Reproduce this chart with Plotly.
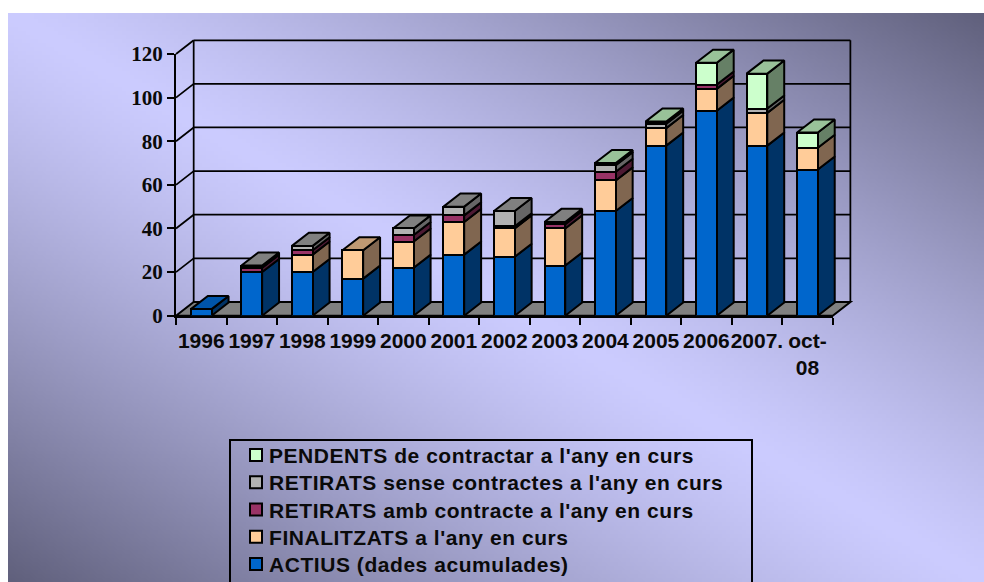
import base64, struct, zlib
import numpy as np
import plotly.graph_objects as go

# ---------- data ----------
categories = ["1996", "1997", "1998", "1999", "2000", "2001", "2002", "2003", "2004", "2005", "2006", "2007.", "oct-<br>08"]
actius     = [3, 20, 20, 17, 22, 28, 27, 23, 48, 78, 94, 78, 67]
finalitzats = [0, 0, 8, 13, 12, 15, 13, 17, 14, 8, 10, 15, 10]
retirats_amb = [0, 2, 2, 0, 3, 3, 1, 2, 4, 0, 2, 0, 0]
retirats_sense = [0, 1, 2, 0, 3, 4, 7, 1, 3, 2, 0, 2, 0]
pendents   = [0, 0, 0, 0, 0, 0, 0, 0, 1, 1, 10, 16, 7]
y_ticks = [0, 20, 40, 60, 80, 100, 120]

series_names = ["ACTIUS (dades acumulades)", "FINALITZATS a l'any en curs",
                "RETIRATS amb contracte a l'any en curs",
                "RETIRATS sense contractes a l'any en curs",
                "PENDENTS de contractar a l'any en curs"]
series_values = [actius, finalitzats, retirats_amb, retirats_sense, pendents]
front_colors = ["#0066CC", "#FFCC99", "#993366", "#B2B2B2", "#CCFFCC"]
side_colors = ["#003366", "#806650", "#4D1A33", "#666666", "#668066"]
top_colors = ["#0055AA", "#BF9973", "#732650", "#808080", "#99C299"]

# ---------- layout constants (pixels) ----------
FW, FH = 984, 600
PX0, PX1, PY0, PY1 = 176.0, 832.7, 54.0, 315.7   # front plane of the chart
n = len(categories)
CW = (PX1 - PX0) / n
VH = (PY1 - PY0) / 120
WX0, WX1, WY0, WY1 = 172.0, 858.0, 34.0, 320.0   # wider frame used by walls, floor and bar depth
BACK_C, BACK_V = 0.35, 6.3     # depth of the floor in axis units
BAR_C, BAR_V = 0.335, 6.0      # depth of each bar
BAR_W = 0.41


def gradient_png():
    w, h = 244, 147
    xs = (np.arange(w) + .5) / w * 976
    ys = (np.arange(h) + .5) / h * 587
    X, Y = np.meshgrid(xs, ys)
    t = np.clip(np.abs(X / 976 - Y / 569), 0, 1) ** 1.25
    light, dark = np.array([204, 204, 255.]), np.array([96, 96, 124.])
    img = (light[None, None] * (1 - t[..., None]) + dark[None, None] * t[..., None]).astype(np.uint8)
    raw = b"".join(b"\x00" + img[r].tobytes() for r in range(h))

    def chunk(tag, data):
        c = struct.pack(">I", len(data)) + tag + data
        return c + struct.pack(">I", zlib.crc32(tag + data))
    png = b"\x89PNG\r\n\x1a\n" + chunk(b"IHDR", struct.pack(">IIBBBBB", w, h, 8, 2, 0, 0, 0)) + \
        chunk(b"IDAT", zlib.compress(raw)) + chunk(b"IEND", b"")
    return "data:image/png;base64," + base64.b64encode(png).decode()


fig = go.Figure()

# front faces: real stacked bars (also feed the legend)
for i, (name, vals) in enumerate(zip(series_names, series_values)):
    fig.add_trace(go.Bar(
        x=[c + .5 for c in range(n)], y=[v if v else None for v in vals], width=BAR_W,
        name=name, xaxis="x2", yaxis="y2", legendrank=100 - i,
        marker=dict(color=front_colors[i], line=dict(color="black", width=2)),
    ))

# side and top faces derived from the same values, on the wider frame (same scale as the bars)
base = [0] * n
tops = [sum(s[c] for s in series_values) for c in range(n)]
for i, vals in enumerate(series_values):
    sx, sy, tx, ty = [], [], [], []
    for c in range(n):
        if not vals[c]:
            continue
        r = c + .5 + BAR_W / 2
        l = c + .5 - BAR_W / 2
        y0, y1 = base[c], base[c] + vals[c]
        sx += [r, r + BAR_C, r + BAR_C, r, r, None]
        sy += [y0, y0 + BAR_V, y1 + BAR_V, y1, y0, None]
        if y1 == tops[c]:
            tx += [l, l + BAR_C, r + BAR_C, r, l, None]
            ty += [y1, y1 + BAR_V, y1 + BAR_V, y1, y1, None]
        base[c] = y1
    for xs_, ys_, col in ((sx, sy, side_colors[i]), (tx, ty, top_colors[i])):
        if xs_:
            fig.add_trace(go.Scatter(x=xs_, y=ys_, xaxis="x", yaxis="y", mode="lines", fill="toself",
                                     fillcolor=col, line=dict(color="black", width=2), showlegend=False,
                                     hoverinfo="skip"))

# walls and floor
ln = dict(color="black", width=1.75)
shapes = []
for v in y_ticks[1:]:
    shapes.append(dict(type="line", xref="x", yref="y", x0=BACK_C, x1=n + BACK_C, y0=v + BACK_V, y1=v + BACK_V, line=ln, layer="below"))
    shapes.append(dict(type="line", xref="x", yref="y", x0=0, x1=BACK_C, y0=v, y1=v + BACK_V, line=ln, layer="below"))
shapes.append(dict(type="path", xref="x", yref="y", layer="below", line=dict(color="black", width=2), fillcolor="#808080",
                   path=f"M 0 0 L {BACK_C} {BACK_V} L {n + BACK_C} {BACK_V} L {n} 0 Z"))
shapes.append(dict(type="line", xref="x", yref="y", x0=BACK_C, x1=BACK_C, y0=BACK_V, y1=120 + BACK_V, line=ln, layer="below"))
shapes.append(dict(type="line", xref="x", yref="y", x0=n + BACK_C, x1=n + BACK_C, y0=BACK_V, y1=120 + BACK_V, line=ln, layer="below"))

fig.update_layout(
    width=FW, height=FH, margin=dict(l=0, r=0, t=0, b=0, autoexpand=False), autosize=False,
    paper_bgcolor="white", plot_bgcolor="rgba(0,0,0,0)", barmode="stack", shapes=shapes,
    images=[dict(source=gradient_png(), xref="paper", yref="paper", x=8 / FW, y=1 - 13 / FH,
                 sizex=976 / FW, sizey=587 / FH, sizing="stretch", xanchor="left", yanchor="top", layer="below")],
    xaxis=dict(domain=[WX0 / FW, WX1 / FW], range=[(WX0 - PX0) / CW, (WX1 - PX0) / CW], visible=False, anchor="y"),
    yaxis=dict(domain=[1 - WY1 / FH, 1 - WY0 / FH], range=[(PY1 - WY1) / VH, (PY1 - WY0) / VH], visible=False, anchor="x"),
    xaxis2=dict(domain=[PX0 / FW, PX1 / FW], range=[0, n], anchor="y2", tickmode="array",
                tickvals=[c + .5 for c in range(n)], ticktext=categories, ticks="", ticklabelstandoff=5,
                showgrid=False, zeroline=False, showline=True, linecolor="black", linewidth=2, tickangle=0,
                tickfont=dict(family="Liberation Sans", size=21, color="#0a0a0a", weight=700),
                minor=dict(tickmode="array", tickvals=list(range(n + 1)), ticks="outside", ticklen=7,
                           tickwidth=2, tickcolor="black", showgrid=False)),
    yaxis2=dict(domain=[1 - PY1 / FH, 1 - PY0 / FH], range=[0, 120], anchor="x2", tickmode="array", tickvals=y_ticks,
                ticks="outside", ticklen=7, tickwidth=2, tickcolor="black", showgrid=False,
                zeroline=False, showline=True, linecolor="black", linewidth=2,
                tickfont=dict(family="Liberation Serif", size=21, color="#0a0a0a", weight=700)),
    legend=dict(x=229 / FW, y=1 - 439 / FH, xanchor="left", yanchor="top", traceorder="normal",
                bgcolor="rgba(0,0,0,0)", bordercolor="black", borderwidth=2,
                entrywidth=512, entrywidthmode="pixels",
                itemclick=False, itemdoubleclick=False,
                font=dict(family="Liberation Sans", size=21, color="#0a0a0a", weight=700)),
)

post = """
document.body.style.margin='0';
document.documentElement.style.overflow='hidden';
document.body.style.overflow='hidden';
(function(){
  var gd=document.getElementById('{plot_id}');
  function fix(){
    var items=gd.querySelectorAll('.legend .traces');
    items.forEach(function(t,i){
      t.setAttribute('transform','translate(0,'+(16+i*27.25)+')');
      var txt=t.querySelector('.legendtext');
      if(txt){txt.style.letterSpacing='0.55px';txt.setAttribute('x','40');}
      var sym=t.querySelector('.legendsymbols');
      if(sym){sym.setAttribute('transform','translate(7,0)');}
    });
    var bg=gd.querySelector('.legend rect.bg');
    if(bg){bg.setAttribute('width','522');bg.style.width='522px';}
    var sb=gd.querySelector('.legend .scrollbox');
    if(sb){sb.removeAttribute('clip-path');sb.style.clipPath='none';}
    gd.querySelectorAll('.xtick text tspan.line').forEach(function(s){
      if(s.getAttribute('dy')&&parseFloat(s.getAttribute('dy'))>0){s.setAttribute('dy','1.65em');}
    });
  }
  fix(); setTimeout(fix,0); setTimeout(fix,200);
  if(gd.on){gd.on('plotly_afterplot',fix);}
})();
"""
fig.write_html("out.html", config={"displayModeBar": False}, post_script=post)
